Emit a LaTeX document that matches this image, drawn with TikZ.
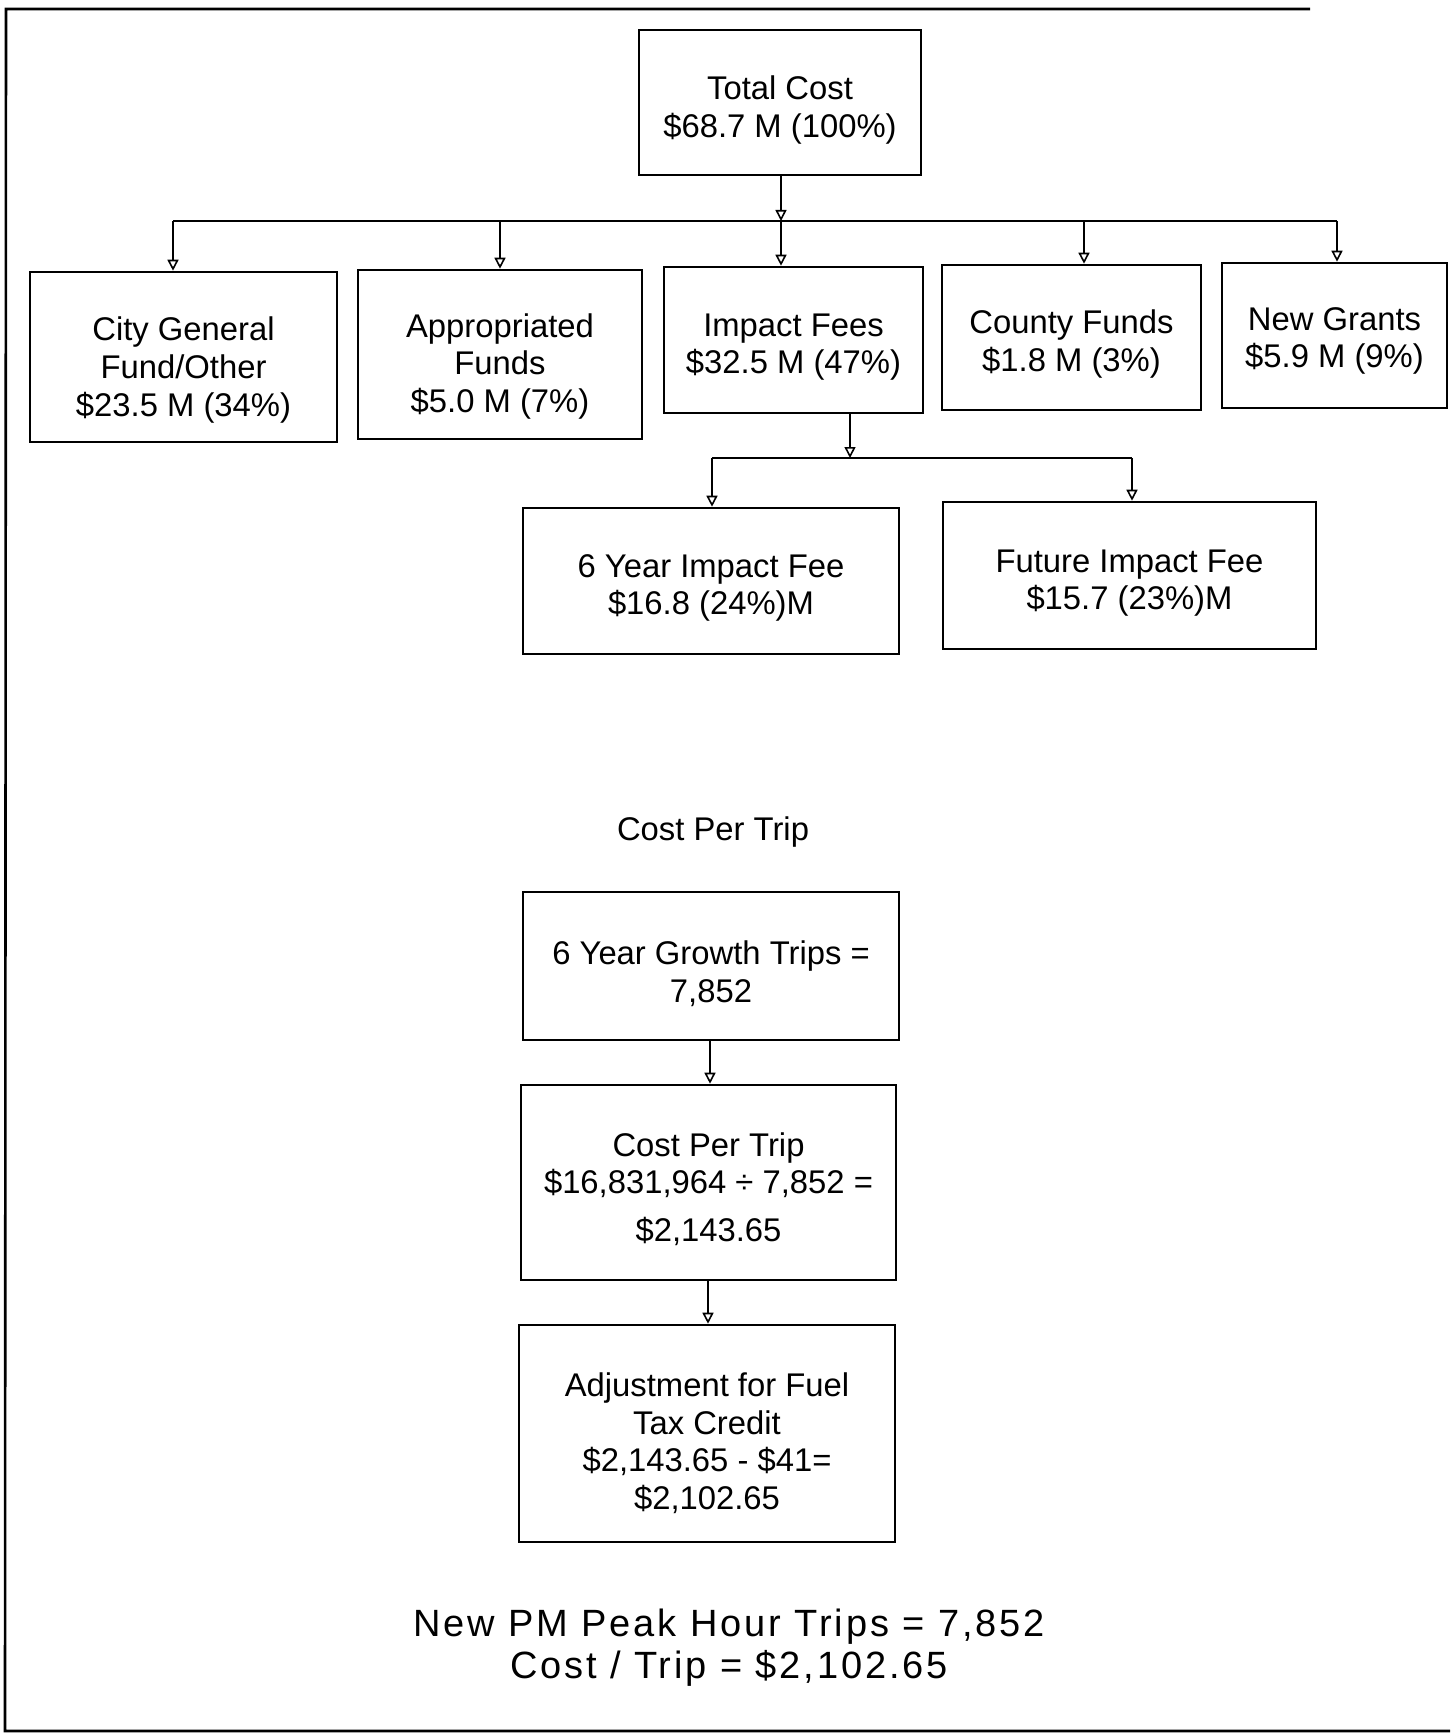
\documentclass[tikz,border=0pt]{standalone}
\usepackage{fontspec}
\setmainfont{Liberation Sans}
\newfontfamily\spacedfont[LetterSpace=7.5]{Liberation Sans}
\usetikzlibrary{arrows.meta}
\begin{document}
\begin{tikzpicture}[x=0.5pt,y=-0.5pt,
  box/.style={draw, line width=1.3pt, rectangle, inner sep=0pt},
  txt/.style={align=center, font=\fontsize{16.4}{18.8}\selectfont, inner sep=0pt},
  bigtxt/.style={align=center, font=\spacedfont\fontsize{19}{21}\selectfont, inner sep=0pt},
  conn/.style={line width=1.1pt},
  arr/.style={line width=1.1pt, -{Triangle[open, length=5.5pt, width=5.5pt, line width=0.8pt]}},
  frame/.style={line width=1.3pt}]
\useasboundingbox (0,0) rectangle (1450,1733);

% frame
\coordinate (fTR) at (1310,9);
\coordinate (fTL) at (6,9);
\coordinate (fBL) at (5,1731);
\coordinate (fBR) at (1450,1731);
\draw[frame] (fTR) -- (fTL) -- (fBL) -- (fBR);

% boxes
\node[box, minimum width=141pt, minimum height=72.5pt] (total) at (780,102.5) {};
\node[box, minimum width=153.5pt, minimum height=85pt] (city) at (183.5,357) {};
\node[box, minimum width=142pt, minimum height=84.5pt] (approp) at (500,354.5) {};
\node[box, minimum width=129.5pt, minimum height=73pt] (impact) at (793.5,340) {};
\node[box, minimum width=129.5pt, minimum height=72.5pt] (county) at (1071.5,337.5) {};
\node[box, minimum width=112.5pt, minimum height=72.5pt] (grants) at (1334.5,335.5) {};
\node[box, minimum width=188pt, minimum height=73pt] (six) at (711,581) {};
\node[box, minimum width=186.5pt, minimum height=73.5pt] (future) at (1129.5,575.5) {};
\node[box, minimum width=188pt, minimum height=74pt] (growth) at (711,966) {};
\node[box, minimum width=187.5pt, minimum height=97.5pt] (cpt) at (708.5,1182.5) {};
\node[box, minimum width=188pt, minimum height=108.5pt] (adj) at (707,1433.5) {};

% texts
\node[txt] (totalt) at (780,110) {Total Cost\\\$68.7 M (100\%)};
\node[txt] (cityt) at (183.5,370) {City General\\Fund/Other\\\$23.5 M (34\%)};
\node[txt] (appropt) at (500,366.5) {Appropriated\\Funds\\\$5.0 M (7\%)};
\node[txt] (impactt) at (793.5,347) {Impact Fees\\\$32.5 M (47\%)};
\node[txt] (countyt) at (1071.5,344) {County Funds\\\$1.8 M (3\%)};
\node[txt] (grantst) at (1334.5,341) {New Grants\\\$5.9 M (9\%)};
\node[txt] (sixt) at (711,588) {6 Year Impact Fee\\\$16.8 (24\%)M};
\node[txt] (futuret) at (1129.5,583) {Future Impact Fee\\\$15.7 (23\%)M};
\node[txt] (growtht) at (711,974) {6 Year Growth Trips =\\7,852};
\node[txt] (cptt) at (708.5,1189) {Cost Per Trip\\\$16,831,964 ÷ 7,852 =\\[5pt]\$2,143.65};
\node[txt] (adjt) at (707,1443) {Adjustment for Fuel\\Tax Credit\\\$2,143.65 - \$41=\\\$2,102.65};
\node[txt] (cptlabel) at (713,832) {Cost Per Trip};
\node[bigtxt] (summary) at (729,1648) {New PM Peak Hour Trips = 7,852\\Cost / Trip = \$2,102.65};

% top-level connectors
\coordinate (busL) at (173,221);
\coordinate (busM) at (781,221);
\coordinate (busC) at (1084,221);
\coordinate (busR) at (1337,221);
\draw[arr] (total.south -| busM) -- (busM);
\draw[conn] (busL) -- (busR);
\draw[arr] (busL) -- (busL |- city.north);
\draw[arr] (approp.north |- busL) -- (approp.north);
\draw[arr] (busM) -- (busM |- impact.north);
\draw[arr] (busC) -- (busC |- county.north);
\draw[arr] (busR) -- (busR |- grants.north);

% impact fee split
\coordinate (sub0) at (850,458);
\coordinate (subL) at (712,458);
\coordinate (subR) at (1132,458);
\draw[arr] (impact.south -| sub0) -- (sub0);
\draw[conn] (subL) -- (subR);
\draw[arr] (subL) -- (subL |- six.north);
\draw[arr] (subR) -- (subR |- future.north);

% chain
\coordinate (ch1) at (710,1000);
\coordinate (ch2) at (708,1300);
\draw[arr] (growth.south -| ch1) -- (cpt.north -| ch1);
\draw[arr] (cpt.south -| ch2) -- (adj.north -| ch2);
\end{tikzpicture}
\end{document}
